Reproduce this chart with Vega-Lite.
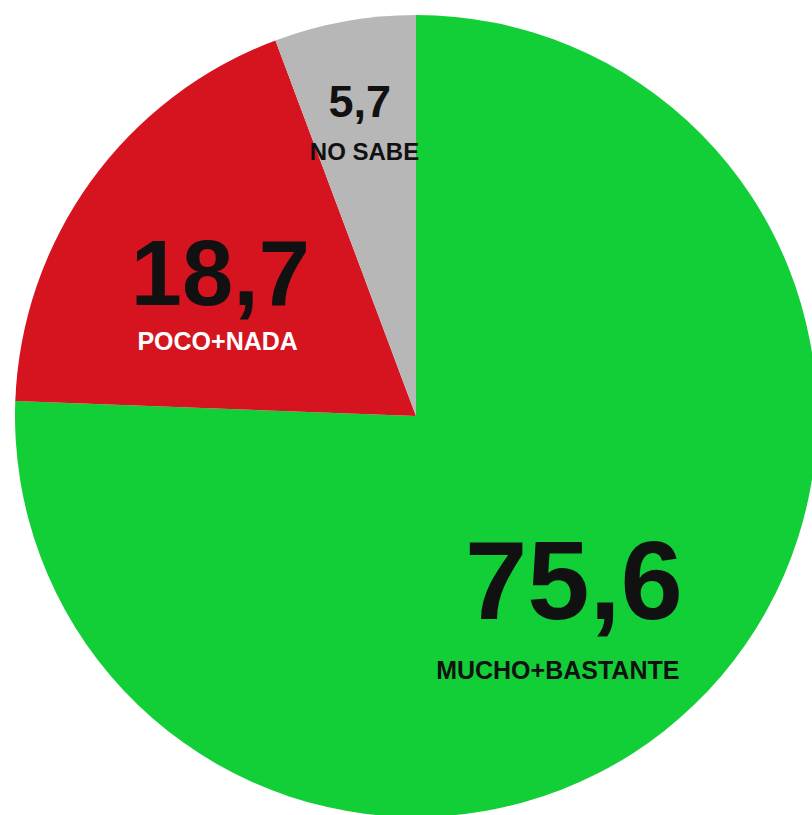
{
  "$schema": "https://vega.github.io/schema/vega-lite/v6.json",
  "width": 832,
  "height": 832,
  "padding": 0,
  "autosize": {"type": "none"},
  "background": "white",
  "config": {"view": {"stroke": null}},
  "data": {
    "values": [
      {"orden": 1, "cat": "MUCHO+BASTANTE", "pct": 75.6, "etiqueta": "75,6"},
      {"orden": 2, "cat": "POCO+NADA", "pct": 18.7, "etiqueta": "18,7"},
      {"orden": 3, "cat": "NO SABE", "pct": 5.7, "etiqueta": "5,7"}
    ]
  },
  "encoding": {
    "theta": {"field": "pct", "type": "quantitative", "stack": true},
    "order": {"field": "orden", "type": "quantitative"}
  },
  "layer": [
    {
      "mark": {"type": "arc", "outerRadius": 401, "stroke": null},
      "encoding": {
        "color": {
          "field": "cat",
          "type": "nominal",
          "scale": {"domain": ["MUCHO+BASTANTE", "POCO+NADA", "NO SABE"], "range": ["#12cf38", "#d5141f", "#b7b7b7"]},
          "legend": null
        }
      }
    },
    {
      "mark": {"type": "text", "radius": 255, "dx": -19, "dy": 19, "font": "Liberation Sans", "fontWeight": "bold", "fontSize": 112, "fill": "#111111", "align": "center", "baseline": "alphabetic"},
      "encoding": {
        "detail": {"field": "cat"},
        "text": {"condition": {"test": "datum.cat === 'MUCHO+BASTANTE'", "field": "etiqueta"}, "value": ""}
      }
    },
    {
      "mark": {"type": "text", "radius": 288, "dx": -58, "dy": 56, "font": "Liberation Sans", "fontWeight": "bold", "fontSize": 25, "fill": "#111111", "align": "center", "baseline": "alphabetic"},
      "encoding": {
        "detail": {"field": "cat"},
        "text": {"condition": {"test": "datum.cat === 'MUCHO+BASTANTE'", "field": "cat"}, "value": ""}
      }
    },
    {
      "mark": {"type": "text", "radius": 224, "dx": -14, "dy": 20, "font": "Liberation Sans", "fontWeight": "bold", "fontSize": 92, "fill": "#111111", "align": "center", "baseline": "alphabetic"},
      "encoding": {
        "detail": {"field": "cat"},
        "text": {"condition": {"test": "datum.cat === 'POCO+NADA'", "field": "etiqueta"}, "value": ""}
      }
    },
    {
      "mark": {"type": "text", "radius": 199, "dx": -37, "dy": 50, "font": "Liberation Sans", "fontWeight": "bold", "fontSize": 25, "fill": "white", "align": "center", "baseline": "alphabetic"},
      "encoding": {
        "detail": {"field": "cat"},
        "text": {"condition": {"test": "datum.cat === 'POCO+NADA'", "field": "cat"}, "value": ""}
      }
    },
    {
      "mark": {"type": "text", "radius": 304, "dx": -2, "dy": 0, "font": "Liberation Sans", "fontWeight": "bold", "fontSize": 45, "fill": "#111111", "align": "center", "baseline": "alphabetic"},
      "encoding": {
        "detail": {"field": "cat"},
        "text": {"condition": {"test": "datum.cat === 'NO SABE'", "field": "etiqueta"}, "value": ""}
      }
    },
    {
      "mark": {"type": "text", "radius": 261, "dx": -5, "dy": 1, "font": "Liberation Sans", "fontWeight": "bold", "fontSize": 24, "fill": "#111111", "align": "center", "baseline": "alphabetic"},
      "encoding": {
        "detail": {"field": "cat"},
        "text": {"condition": {"test": "datum.cat === 'NO SABE'", "field": "cat"}, "value": ""}
      }
    }
  ]
}
